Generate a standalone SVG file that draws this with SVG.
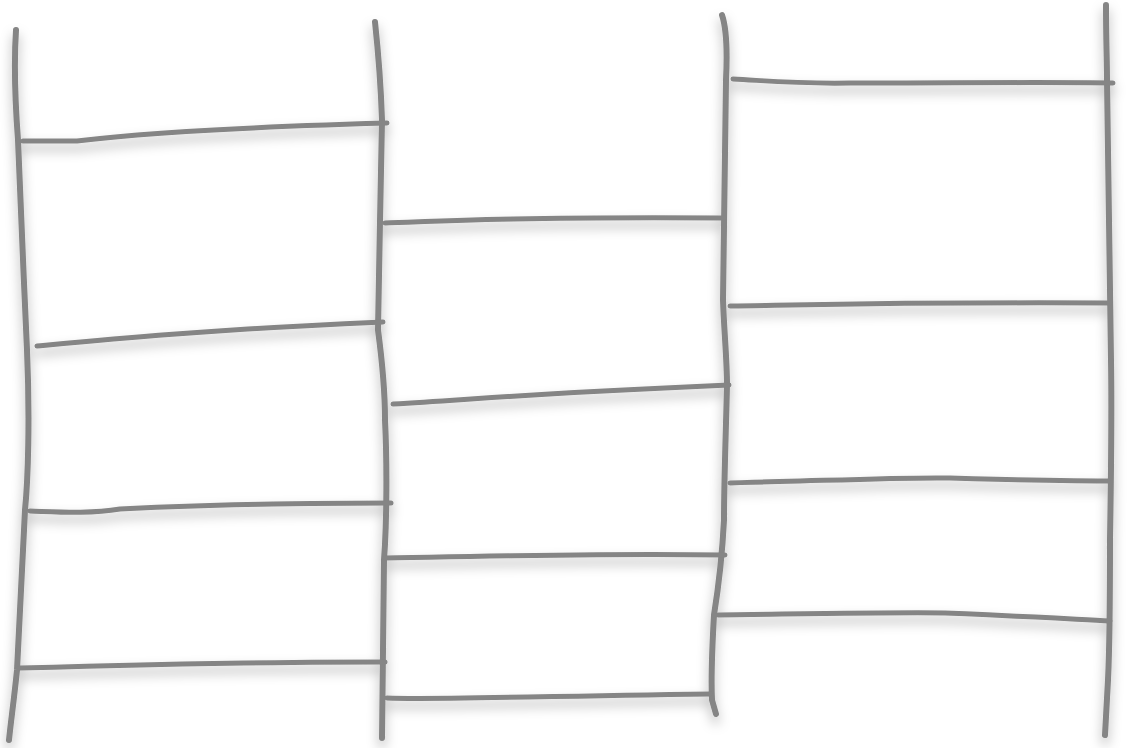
<svg xmlns="http://www.w3.org/2000/svg" width="1129" height="748" viewBox="0 0 1129 748">
<defs>
<filter id="sh" x="-20%" y="-20%" width="140%" height="140%">
<feGaussianBlur in="SourceAlpha" stdDeviation="6"/>
<feOffset dx="0" dy="7" result="b"/>
<feFlood flood-color="#000" flood-opacity="0.3"/>
<feComposite in2="b" operator="in"/>
<feMerge><feMergeNode/><feMergeNode in="SourceGraphic"/></feMerge>
</filter>
<style>
.s{fill:none;stroke:#858585;stroke-linecap:round;stroke-linejoin:round}
.v{stroke-width:6}
.h{stroke-width:5}
</style>
</defs>
<rect width="1129" height="748" fill="#fff"/>
<g id="scene" filter="url(#sh)">
<g id="posts">
<path class="s v" d="M16,30 C14,60 15,100 18,140 C20,200 24,280 27,350 C30,420 28,480 25,510 C22,580 18,640 17,670 C14,700 11,720 9,740"/>
<path class="s v" d="M375,22 C378,50 381,90 382,120 C381,160 379,280 378,330 C382,360 385,400 385,420 C387,460 387,520 384,560 C383,600 383,680 382,738"/>
<path class="s v" d="M722,15 C727,30 727,60 726,80 C725,140 724,220 723,300 C724,330 727,360 727,385 C726,430 724,480 724,520 C722,560 718,590 714,615 C712,650 711,680 712,700 L716,714"/>
<path class="s v" d="M1106,5 C1106,40 1107,60 1107,80 C1108,200 1110,300 1111,360 C1112,420 1111,480 1110,540 C1110,600 1110,640 1108,680 L1105,735"/>
</g>
<g id="rungs">
<path class="s h" d="M23,141 L77,141 C150,132 280,126 387,123"/>
<path class="s h" d="M37,346 C100,340 200,330 383,322"/>
<path class="s h" d="M30,511 C60,512 90,514 120,509 C200,505 300,503 391,503"/>
<path class="s h" d="M20,668 C120,665 250,662 385,662"/>
<path class="s h" d="M385,223 C460,220 530,217 724,218"/>
<path class="s h" d="M393,404 C480,399 520,394 729,385"/>
<path class="s h" d="M385,558 C500,556 600,553 725,555"/>
<path class="s h" d="M387,698 C430,700 500,697 710,694"/>
<path class="s h" d="M733,79 C770,81 800,84 850,83 C950,83 1050,82 1113,83"/>
<path class="s h" d="M730,306 C800,305 900,302 1110,303"/>
<path class="s h" d="M730,483 C820,481 900,477 950,478 C1020,480 1070,481 1108,481"/>
<path class="s h" d="M718,615 C800,614 900,612 945,613 C1020,616 1070,619 1110,621"/>
</g>
</g>
</svg>
